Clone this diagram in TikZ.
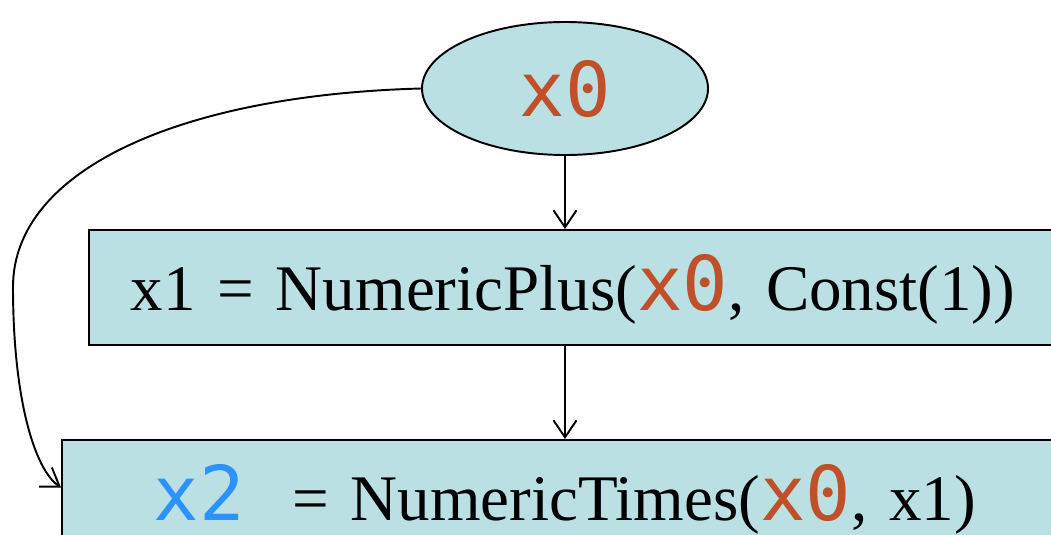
\documentclass[tikz,border=0pt]{standalone}
\usepackage{fontspec}
\setmainfont{Liberation Serif}
\newfontfamily\codefont{DejaVu Sans Mono}
\usepackage{tikz}
\usetikzlibrary{arrows.meta, shapes.geometric}
\usepackage{xcolor}
\definecolor{cellfill}{HTML}{BBE0E3}
\definecolor{varorange}{HTML}{C0502A}
\definecolor{varblue}{HTML}{2B93FF}
\newcommand{\codevar}[2]{{\fontsize{43}{50}\selectfont\codefont\color{#1}#2}}
\newcommand{\xzero}{\codevar{varorange}{x0}}

\begin{document}
\begin{tikzpicture}[line width=1.1pt, >={Straight Barb[length=3.4mm,width=4.6mm]},
    cell/.style={draw, fill=cellfill, anchor=base west, text width=20cm, align=left,
      inner ysep=0pt, text height=1.6cm, text depth=0.7cm, font=\fontsize{37}{44}\selectfont}]
        \useasboundingbox (0,0) rectangle (21.02,-10.68);
        \clip (0,0) rectangle (21.02,-10.68);
        \node[draw, fill=cellfill, ellipse, minimum width=5.72cm, minimum height=2.66cm,
          inner sep=0pt] (x0) at (11.3,-1.77) {\xzero};
        \node[cell, inner xsep=0.84cm] (x1) at (1.76,-6.2)
          {x1 = NumericPlus(\xzero, Const(1))};
        \node[cell, inner xsep=1.84cm] (x2) at (1.22,-10.4)
          {\codevar{varblue}{x2}\hspace{0.95cm}= NumericTimes(\xzero, x1)};
        \draw[->] (x0.south) -- (x0.south |- x1.north);
        \draw[->] (x0.south |- x1.south) -- (x0.south |- x2.north);
        \draw[->] (x0.west) .. controls (3.6,-1.9) and (0.26,-3.4) .. (0.26,-5.74)
          .. controls (0.26,-8.0) and (0.7,-9.4) .. ([yshift=0.2cm]x2.west);
      \end{tikzpicture}
\end{document}
